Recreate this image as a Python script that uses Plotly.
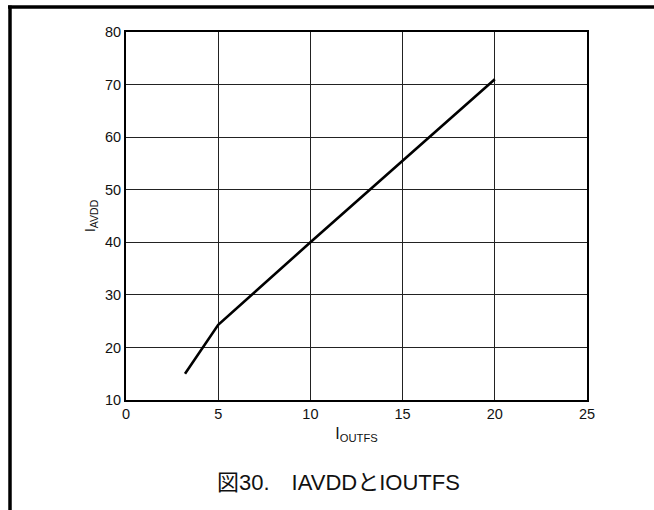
import plotly.graph_objects as go

# Data
iout = [3.2, 5, 10, 20]
iavdd = [15, 24.3, 40, 71]
x_ticks = [0, 5, 10, 15, 20, 25]
y_ticks = [10, 20, 30, 40, 50, 60, 70, 80]
title_text = "図30.　IAVDDとIOUTFS"
x_title = "I<sub>OUTFS</sub>"
y_title = "I<sub>AVDD</sub>"

W, H = 654, 510
L, R, T, B = 126, 67, 32, 110
pw, ph = W - L - R, H - T - B

def px_to_paper_x(px):
    return (px - L) / pw

def px_to_paper_y(py):
    return (H - B - py) / ph

font_fam = "Arial, 'Liberation Sans', 'Noto Sans CJK JP', sans-serif"

fig = go.Figure()
fig.add_trace(go.Scatter(x=iout, y=iavdd, mode="lines",
                         line=dict(color="black", width=2.6), showlegend=False))

fig.update_layout(
    width=W, height=H,
    margin=dict(l=L, r=R, t=T, b=B),
    paper_bgcolor="white", plot_bgcolor="white",
    font=dict(family=font_fam, size=14.5, color="#111"),
    xaxis=dict(range=[0, 25], tickvals=x_ticks, showgrid=True, gridcolor="#222",
               gridwidth=1, showline=True, linecolor="black", linewidth=2,
               mirror=True, ticks="", zeroline=False,
               title=dict(text=x_title, font=dict(size=16), standoff=6)),
    yaxis=dict(range=[10, 80], tickvals=y_ticks, showgrid=True, gridcolor="#222",
               gridwidth=1, showline=True, linecolor="black", linewidth=2,
               mirror=True, ticks="", zeroline=False,
               title=dict(text=y_title, font=dict(size=15), standoff=6)),
    annotations=[dict(text=title_text, x=px_to_paper_x(338), y=px_to_paper_y(482),
                      xref="paper", yref="paper", showarrow=False,
                      xanchor="center", yanchor="middle",
                      font=dict(size=22, family=font_fam, color="#111"))],
    shapes=[
        dict(type="line", xref="paper", yref="paper",
             x0=px_to_paper_x(8), x1=px_to_paper_x(670),
             y0=px_to_paper_y(7), y1=px_to_paper_y(7),
             line=dict(color="black", width=3.5)),
        dict(type="line", xref="paper", yref="paper",
             x0=px_to_paper_x(10), x1=px_to_paper_x(10),
             y0=px_to_paper_y(5.5), y1=px_to_paper_y(530),
             line=dict(color="black", width=3.5)),
    ],
)

fig.write_html("out.html", config={"displayModeBar": False},
               post_script="document.body.style.margin='0';document.body.style.overflow='hidden';")
